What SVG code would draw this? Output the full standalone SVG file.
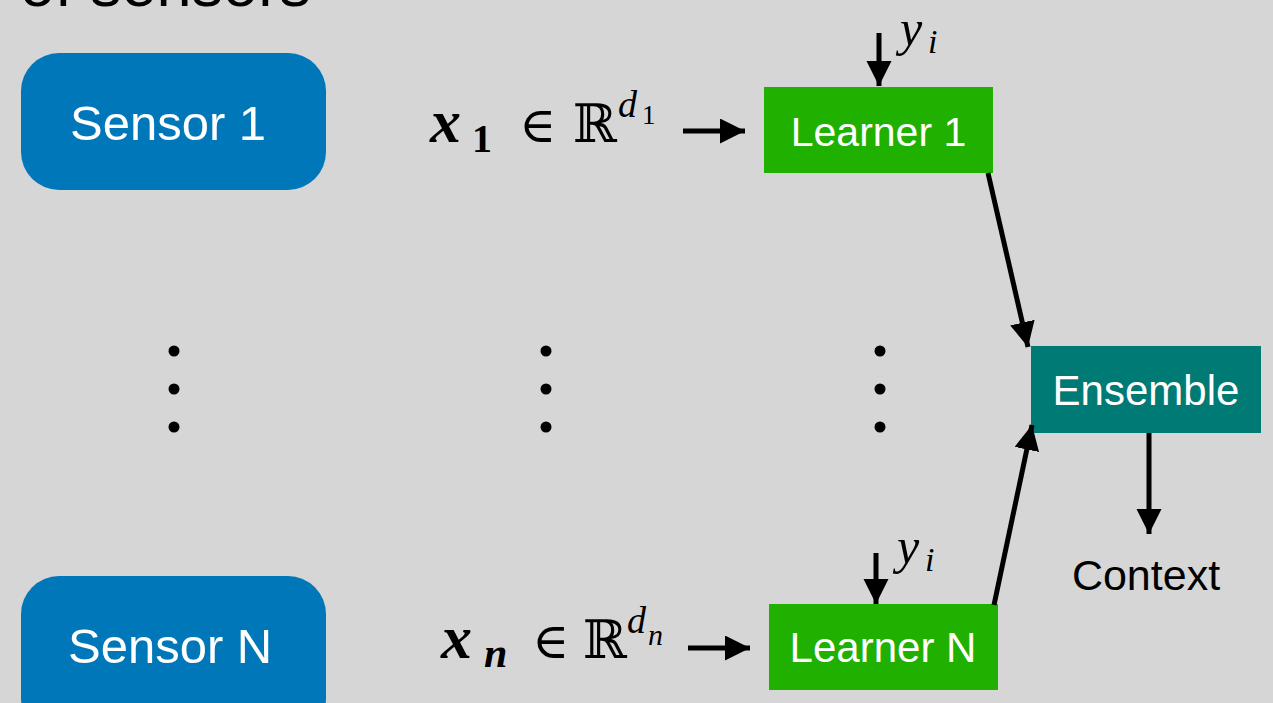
<svg xmlns="http://www.w3.org/2000/svg" width="1273" height="703" viewBox="0 0 1273 703">
<defs>
<style>
.sensor{fill:#0077b9}
.learner{fill:#1fb000}
.ens{fill:#007a74}
.lbl{font-family:"Liberation Sans",Arial,sans-serif;fill:#fff}
.blk{font-family:"Liberation Sans",Arial,sans-serif;fill:#000}
.math{font-family:"Liberation Serif","DejaVu Serif",serif;fill:#000}
.bb{font-family:"DejaVu Serif",serif;fill:#000}
.conn{stroke:#000;stroke-width:5;fill:none}
</style>
<marker id="ah" markerUnits="userSpaceOnUse" markerWidth="26" markerHeight="26" refX="25" refY="12.5" orient="auto" viewBox="0 0 26 26">
<path d="M0,0 L25,12.5 L0,25 Z" fill="#000"/>
</marker>
</defs>
<rect width="1273" height="703" fill="#d6d6d6"/>
<text class="blk" x="20" y="6" font-size="63">of sensors</text>

<g id="sensor1">
<rect class="sensor" x="21" y="53" width="305" height="137" rx="38"/>
<text class="lbl" x="70" y="140" font-size="49">Sensor 1</text>
</g>
<g id="sensorN">
<rect class="sensor" x="21" y="576" width="305" height="160" rx="38"/>
<text class="lbl" x="68" y="663" font-size="49">Sensor N</text>
</g>

<g id="dots">
<circle cx="174" cy="351" r="5.5"/><circle cx="174" cy="389" r="5.5"/><circle cx="174" cy="427" r="5.5"/>
<circle cx="546" cy="351" r="5.5"/><circle cx="546" cy="389" r="5.5"/><circle cx="546" cy="427" r="5.5"/>
<circle cx="880" cy="351" r="5.5"/><circle cx="880" cy="389" r="5.5"/><circle cx="880" cy="427" r="5.5"/>
</g>

<g id="input1">
<text class="math" x="430" y="142" font-size="62" font-style="italic" font-weight="bold">x</text>
<text class="math" x="472" y="152" font-size="40" font-weight="bold">1</text>
<text class="math" x="519" y="142" font-size="50">∈</text>
<text class="bb" x="573" y="142" font-size="53">ℝ</text>
<text class="math" x="618" y="117" font-size="38" font-style="italic">d</text>
<text class="math" x="642" y="124" font-size="27">1</text>
</g>
<g id="inputN">
<text class="math" x="441" y="658" font-size="62" font-style="italic" font-weight="bold">x</text>
<text class="math" x="484" y="667" font-size="42" font-style="italic" font-weight="bold">n</text>
<text class="math" x="532" y="658" font-size="50">∈</text>
<text class="bb" x="583" y="658" font-size="53">ℝ</text>
<text class="math" x="627" y="633" font-size="38" font-style="italic">d</text>
<text class="math" x="648" y="645" font-size="30" font-style="italic">n</text>
</g>

<g id="learner1">
<rect class="learner" x="764" y="87" width="229" height="86"/>
<text class="lbl" x="878.5" y="146" font-size="41" text-anchor="middle">Learner 1</text>
</g>
<g id="learnerN">
<rect class="learner" x="769" y="604" width="229" height="86"/>
<text class="lbl" x="883" y="662" font-size="42" text-anchor="middle">Learner N</text>
</g>
<g id="ensemble">
<rect class="ens" x="1031" y="346" width="230" height="87"/>
<text class="lbl" x="1146" y="405" font-size="42" text-anchor="middle">Ensemble</text>
</g>
<g id="context">
<text class="blk" x="1146" y="590" font-size="43" text-anchor="middle">Context</text>
</g>

<g id="yi1">
<text class="math" x="900" y="45" font-size="50" font-style="italic">y</text>
<text class="math" x="928" y="53" font-size="34" font-style="italic">i</text>
</g>
<g id="yiN">
<text class="math" x="897" y="563" font-size="50" font-style="italic">y</text>
<text class="math" x="925" y="571" font-size="34" font-style="italic">i</text>
</g>

<g id="connectors">
<line class="conn" x1="683" y1="131" x2="745" y2="131" marker-end="url(#ah)"/>
<line class="conn" x1="688" y1="648" x2="750" y2="648" marker-end="url(#ah)"/>
<line class="conn" x1="879" y1="33" x2="879" y2="86" marker-end="url(#ah)"/>
<line class="conn" x1="876" y1="553" x2="876" y2="604" marker-end="url(#ah)"/>
<line class="conn" x1="988" y1="173" x2="1028" y2="347" marker-end="url(#ah)"/>
<line class="conn" x1="994" y1="605" x2="1032" y2="425" marker-end="url(#ah)"/>
<line class="conn" x1="1149" y1="433" x2="1149" y2="534" marker-end="url(#ah)"/>
</g>
</svg>
